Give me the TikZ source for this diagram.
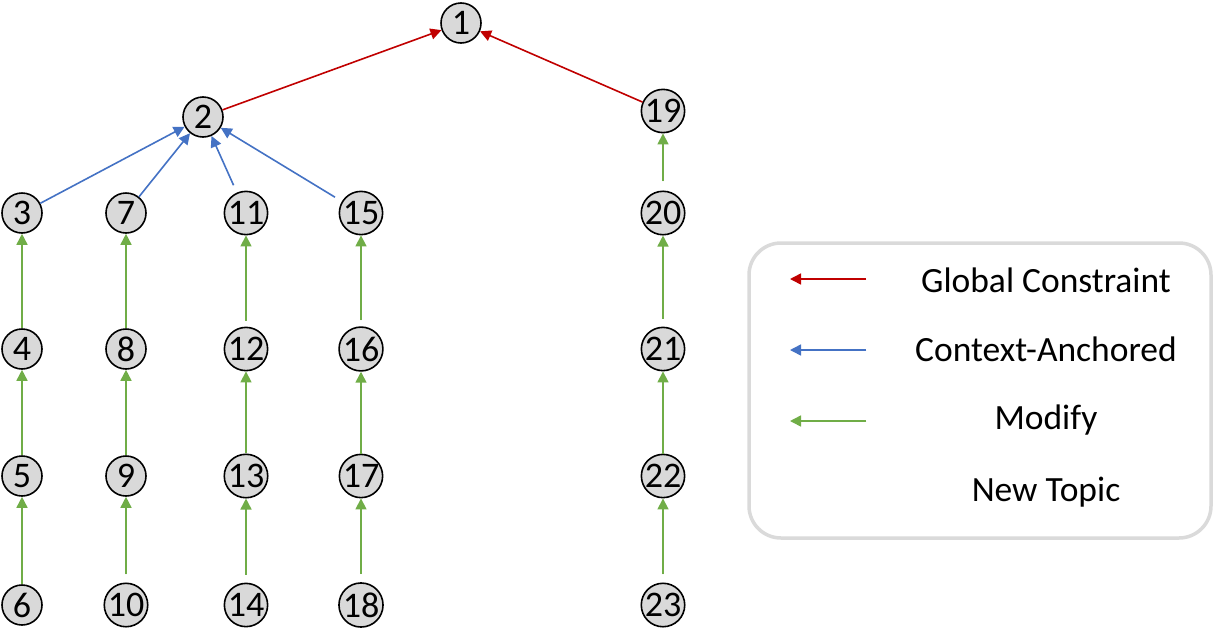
\documentclass[tikz,border=0pt]{standalone}
\usepackage{fontspec}
\setmainfont{Carlito}
\usetikzlibrary{arrows.meta}
\definecolor{gcred}{HTML}{C00000}
\definecolor{cablue}{HTML}{4472C4}
\definecolor{mdgreen}{HTML}{70AD47}
\definecolor{nodegray}{HTML}{D9D9D9}
\definecolor{boxgray}{HTML}{DADADA}
\begin{document}
\begin{tikzpicture}[x=1pt,y=-1pt,
  turn/.style={circle,draw=black,line width=1.6pt,fill=nodegray,minimum size=40pt,inner sep=0pt,font=\fontsize{36}{36}\selectfont},
  arr/.style={line width=1.6pt,-{Triangle[length=11pt,width=11pt]}},
  glob/.style={arr,draw=gcred,fill=gcred},
  ctx/.style={arr,draw=cablue,fill=cablue},
  mod/.style={arr,draw=mdgreen,fill=mdgreen},
  legtext/.style={font=\fontsize{35.5}{36}\selectfont,anchor=center}]
\useasboundingbox (0,0) rectangle (1217,632);
% nodes
\node[turn] (n1) at (461,23) {1};
\node[turn] (n2) at (203,117) {2};
\node[turn] (n19) at (663,111) {19};
\foreach \a/\b/\c/\d/\x in {3/4/5/6/22, 7/8/9/10/126, 11/12/13/14/246, 15/16/17/18/361, 20/21/22/23/663}{
  \node[turn] (n\a) at (\x,213) {\a};
  \node[turn] (n\b) at (\x,349) {\b};
  \node[turn] (n\c) at (\x,476) {\c};
  \node[turn] (n\d) at (\x,605) {\d};
}
% global constraint
\draw[glob] (n2) -- (n1);
\draw[glob] (n19) -- (n1);
% context anchored
\draw[ctx] (n3) -- (n2);
\draw[ctx] (n7) -- (n2);
\draw[ctx,shorten <=8pt] (n11) -- (n2);
\draw[ctx,shorten <=8pt] (n15) -- (n2);
% modify
\draw[mod] (n4) -- (n3);
\draw[mod] (n5) -- (n4);
\draw[mod] (n6) -- (n5);
\draw[mod] (n8) -- (n7);
\draw[mod] (n9) -- (n8);
\draw[mod,shorten <=8pt] (n10) -- (n9);
\draw[mod,shorten <=6pt] (n12) -- (n11);
\draw[mod] (n13) -- (n12);
\draw[mod,shorten <=8pt] (n14) -- (n13);
\draw[mod,shorten <=6pt] (n16) -- (n15);
\draw[mod] (n17) -- (n16);
\draw[mod,shorten <=8pt] (n18) -- (n17);
\draw[mod,shorten <=9pt] (n20) -- (n19);
\draw[mod,shorten <=8pt] (n21) -- (n20);
\draw[mod] (n22) -- (n21);
\draw[mod,shorten <=8pt] (n23) -- (n22);
% legend
\draw[boxgray,line width=3.5pt,rounded corners=32pt,fill=white] (749,243) rectangle (1211,538);
\coordinate (lgA) at (866,279); \coordinate (lgAt) at (790,279);
\coordinate (lgB) at (866,350); \coordinate (lgBt) at (790,350);
\coordinate (lgC) at (866,421); \coordinate (lgCt) at (790,421);
\draw[glob] (lgA) -- (lgAt);
\draw[ctx] (lgB) -- (lgBt);
\draw[mod] (lgC) -- (lgCt);
\node[legtext] (tA) at (1046,280) {Global Constraint};
\node[legtext] (tB) at (1046,349) {Context-Anchored};
\node[legtext] (tC) at (1046,420) {Modify};
\node[legtext] (tD) at (1046,492) {New Topic};
\end{tikzpicture}
\end{document}
